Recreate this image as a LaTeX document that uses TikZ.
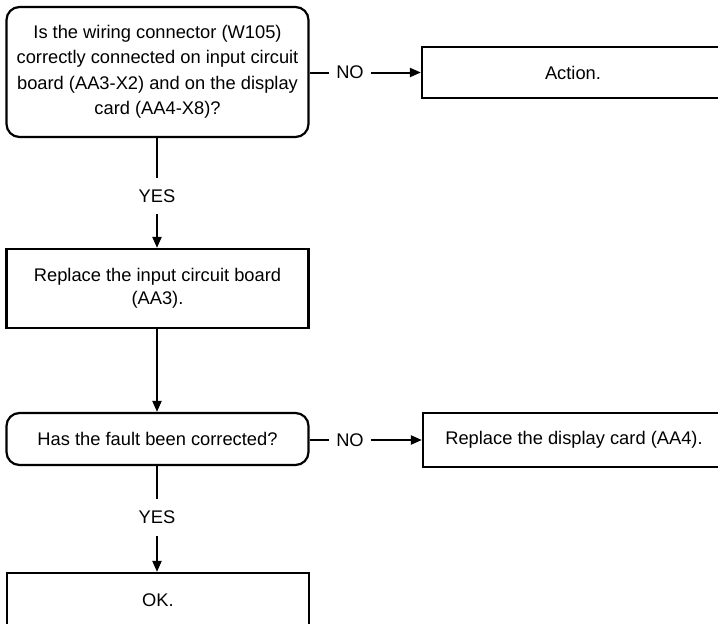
\documentclass[tikz,border=0pt]{standalone}
\usepackage{fontspec}
\setmainfont{Liberation Sans}
\usetikzlibrary{arrows.meta}

\tikzset{
    decision/.style={draw, line width=2.2pt, rounded corners=13pt, align=center, minimum width=302pt},
    process/.style={draw, line width=2.2pt, align=center, minimum width=302pt},
    answer/.style={inner xsep=7pt, inner ysep=11.5pt, text height=12.9pt, text depth=0pt},
    flow/.style={line width=2pt},
    flowarrow/.style={line width=2pt, -{Triangle[length=11pt, width=9pt]}}
}

\begin{document}
\begin{tikzpicture}[x=1pt, y=-1pt, font=\fontsize{18.3}{25.5}\selectfont]
    \useasboundingbox (0, 0) rectangle (718, 624);

    \node[decision, minimum height=130pt] (q1) at (157.5, 72)
        {Is the wiring connector (W105)\\correctly connected on input circuit\\board (AA3-X2) and on the display\\card (AA4-X8)?};
    \node[process, minimum height=51pt] (act) at (573, 72.5) {Action.};
    \node[answer] (no1) at (350, 72.5) {NO};
    \node[answer] (yes1) at (157, 196) {YES};

    \node[process, minimum height=79pt, font=\fontsize{18.3}{23.5}\selectfont] (rep3) at (157.5, 288.5)
        {Replace the input circuit board\\(AA3).};

    \node[decision, minimum height=52pt] (q2) at (157.5, 439) {Has the fault been corrected?};
    \node[process, minimum height=54pt] (rep4) at (574, 440) {Replace the display card (AA4).};
    \node[answer] (no2) at (350, 440) {NO};
    \node[answer] (yes2) at (157, 517.5) {YES};

    \node[process, minimum height=54pt] (ok) at (158, 600) {OK.};

    \draw[flow] (q1.east |- no1) -- (no1.west);
    \draw[flowarrow] (no1.east) -- (act.west);
    \draw[flow] (q1.south -| yes1) -- (yes1.north);
    \draw[flowarrow] (yes1.south) -- (rep3.north -| yes1);
    \draw[flowarrow] (rep3.south -| yes1) -- (q2.north -| yes1);

    \draw[flow] (q2.east |- no2) -- (no2.west);
    \draw[flowarrow] (no2.east) -- (rep4.west |- no2);
    \draw[flow] (q2.south -| yes2) -- (yes2.north);
    \draw[flowarrow] (yes2.south) -- (ok.north -| yes2);
\end{tikzpicture}
\end{document}
